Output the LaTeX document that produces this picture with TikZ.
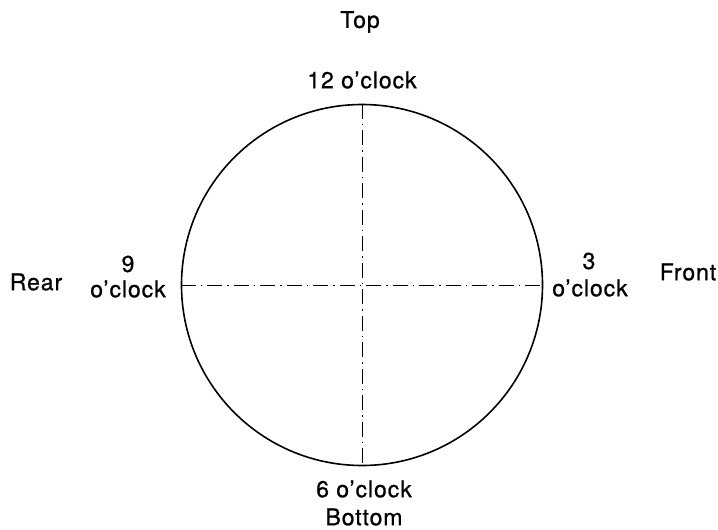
\documentclass[tikz,border=0pt]{standalone}
\usepackage{fontspec}
\setmainfont{TeX Gyre Heros}[FakeBold=0.8,LetterSpace=4]
\begin{document}
\begin{tikzpicture}[x=1pt,y=-1pt,
  lbl/.style={inner sep=0pt,font=\fontsize{23}{26}\selectfont},
  axisline/.style={line width=0.9pt,dash pattern=on 15pt off 5pt on 1.5pt off 5pt}]
\useasboundingbox (0,0) rectangle (718,530);
\coordinate (c) at (362,285);
\node[draw,circle,line width=1.6pt,minimum size=361pt,inner sep=0pt] (circ) at (c) {};
\draw[axisline] (circ.north) -- (circ.south);
\draw[axisline] (circ.west) -- (circ.east);
\node[lbl] (top) at (360,22) {Top};
\node[lbl] (twelve) at (362,80) {12 o'clock};
\node[lbl] (rear) at (36,282) {Rear};
\node[lbl] (nine) at (128,264) {9};
\node[lbl] (ninec) at (128,289) {o'clock};
\node[lbl] (three) at (589,261) {3};
\node[lbl] (threec) at (590,288) {o'clock};
\node[lbl] (front) at (688,272) {Front};
\node[lbl] (six) at (364,489) {6 o'clock};
\node[lbl] (bottom) at (364,517) {Bottom};
\end{tikzpicture}
\end{document}
